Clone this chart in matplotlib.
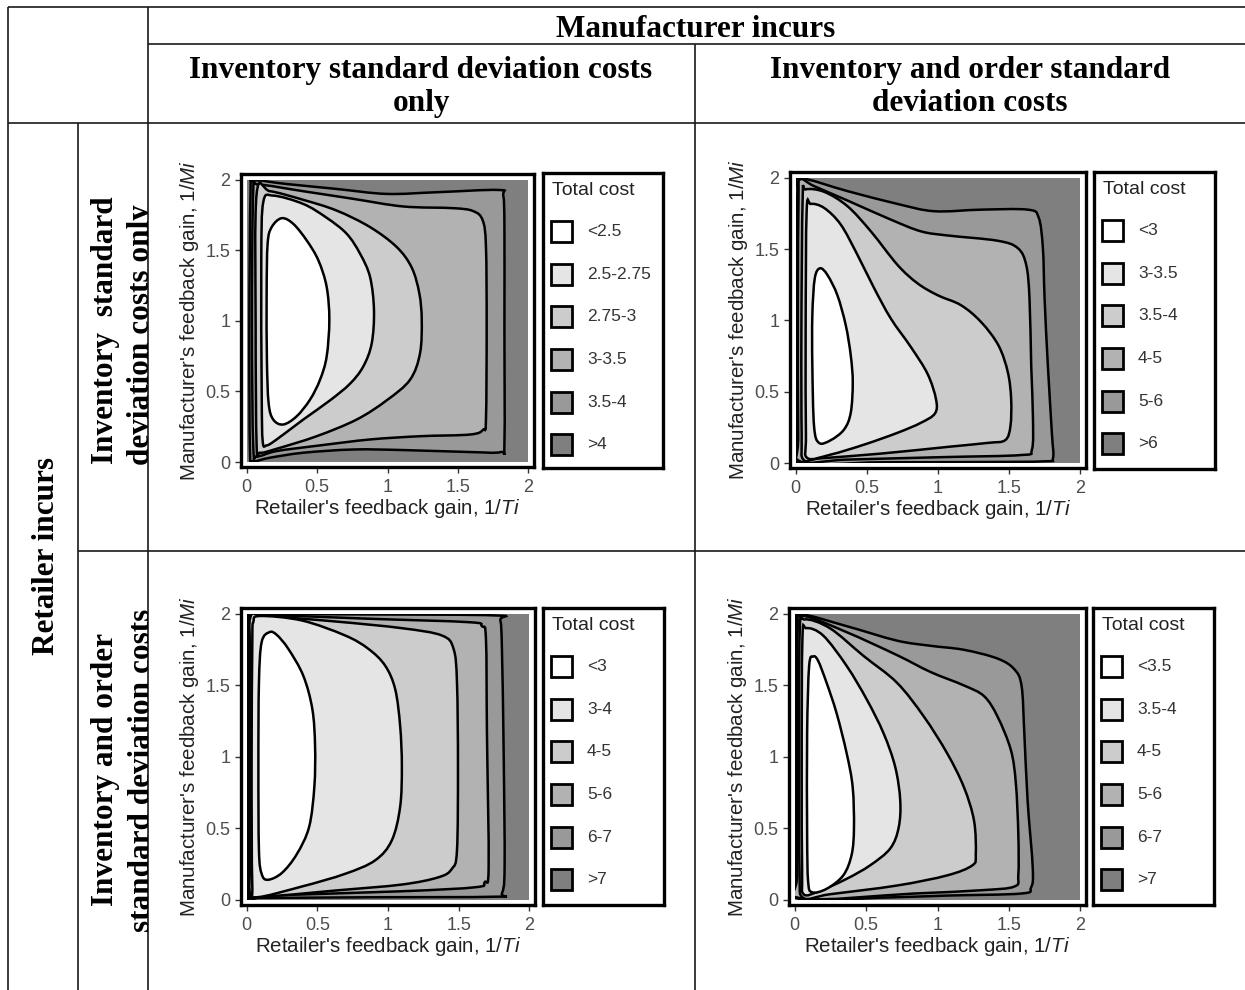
import numpy as np
import matplotlib
matplotlib.use("Agg")
import matplotlib.pyplot as plt
from matplotlib.path import Path
from matplotlib.patches import PathPatch, Rectangle
from matplotlib.transforms import Bbox

W, H = 1245, 990

# Contour boundaries, innermost first (x = 1/Ti, y = 1/Mi)
P1_X = [
    [0.249, 0.331, 0.426, 0.509, 0.568, 0.587, 0.568, 0.521, 0.450, 0.355, 0.260, 0.189, 0.156, 0.144, 0.142, 0.149, 0.178],
    [0.189, 0.402, 0.568, 0.710, 0.805, 0.876, 0.904, 0.888, 0.828, 0.734, 0.592, 0.402, 0.213, 0.142, 0.114, 0.107, 0.104, 0.118],
    [0.166, 0.402, 0.639, 0.876, 1.065, 1.172, 1.226, 1.243, 1.231, 1.160, 0.994, 0.781, 0.497, 0.213, 0.095, 0.071, 0.064, 0.071],
    [0.083, 0.402, 0.757, 1.112, 1.467, 1.609, 1.676, 1.699, 1.704, 1.699, 1.680, 1.586, 1.231, 0.876, 0.521, 0.213, 0.076, 0.047, 0.038, 0.047],
    [0.047, 0.284, 0.639, 0.994, 1.349, 1.787, 1.822, 1.830, 1.830, 1.830, 1.804, 1.586, 1.112, 0.757, 0.402, 0.166, 0.047, 0.024, 0.019, 0.028],
]
P1_Y = [
    [1.727, 1.687, 1.570, 1.429, 1.241, 1.006, 0.747, 0.583, 0.442, 0.324, 0.266, 0.301, 0.418, 0.724, 1.194, 1.546, 1.664],
    [1.887, 1.828, 1.730, 1.617, 1.476, 1.311, 1.076, 0.841, 0.677, 0.555, 0.437, 0.301, 0.160, 0.118, 0.148, 0.489, 1.429, 1.840],
    [1.918, 1.857, 1.781, 1.664, 1.523, 1.377, 1.194, 1.006, 0.771, 0.583, 0.437, 0.301, 0.183, 0.094, 0.066, 0.113, 0.959, 1.899],
    [1.965, 1.918, 1.864, 1.810, 1.798, 1.777, 1.711, 1.523, 0.959, 0.301, 0.230, 0.195, 0.183, 0.160, 0.118, 0.078, 0.042, 0.113, 0.959, 1.922],
    [1.993, 1.969, 1.934, 1.899, 1.911, 1.927, 1.887, 1.664, 0.959, 0.136, 0.071, 0.071, 0.085, 0.089, 0.066, 0.031, 0.007, 0.066, 0.959, 1.922],
]

P2_X = [
    [0.171, 0.223, 0.293, 0.352, 0.387, 0.401, 0.387, 0.340, 0.246, 0.164, 0.129, 0.117, 0.117, 0.134],
    [0.106, 0.200, 0.317, 0.434, 0.552, 0.669, 0.810, 0.927, 0.986, 0.979, 0.880, 0.716, 0.481, 0.246, 0.082, 0.072, 0.070, 0.077],
    [0.070, 0.200, 0.364, 0.528, 0.716, 0.857, 0.998, 1.162, 1.303, 1.425, 1.491, 1.514, 1.509, 1.472, 1.350, 1.068, 0.599, 0.176, 0.054, 0.042, 0.040, 0.049],
    [0.031, 0.129, 0.364, 0.669, 0.880, 1.068, 1.420, 1.561, 1.620, 1.643, 1.655, 1.667, 1.660, 1.585, 1.068, 0.364, 0.031, 0.018, 0.016, 0.020],
    [0.035, 0.364, 0.716, 0.974, 1.303, 1.631, 1.707, 1.737, 1.749, 1.772, 1.800, 1.808, 1.749, 1.303, 0.599, 0.016, 0.008, 0.007, 0.012],
]
P2_Y = [
    [1.365, 1.318, 1.176, 0.965, 0.753, 0.565, 0.353, 0.235, 0.160, 0.141, 0.259, 0.682, 1.035, 1.294],
    [1.816, 1.788, 1.671, 1.459, 1.224, 1.012, 0.812, 0.624, 0.447, 0.348, 0.282, 0.212, 0.129, 0.059, 0.035, 0.200, 0.918, 1.765],
    [1.918, 1.901, 1.800, 1.624, 1.388, 1.259, 1.176, 1.106, 0.988, 0.824, 0.635, 0.447, 0.259, 0.160, 0.141, 0.113, 0.066, 0.033, 0.024, 0.200, 0.918, 1.859],
    [1.988, 1.941, 1.840, 1.706, 1.624, 1.595, 1.558, 1.506, 1.388, 1.153, 0.682, 0.329, 0.094, 0.056, 0.042, 0.024, 0.012, 0.200, 1.153, 1.850],
    [1.995, 1.906, 1.816, 1.765, 1.776, 1.776, 1.722, 1.506, 1.153, 0.682, 0.212, 0.035, 0.012, 0.007, 0.005, 0.003, 0.200, 1.388, 1.900],
]

P3_X = [
    [0.161, 0.213, 0.295, 0.401, 0.465, 0.484, 0.479, 0.442, 0.354, 0.248, 0.149, 0.106, 0.087, 0.083, 0.087, 0.106],
    [0.094, 0.390, 0.697, 0.862, 0.980, 1.051, 1.086, 1.098, 1.086, 1.027, 0.909, 0.697, 0.390, 0.064, 0.040, 0.035, 0.040, 0.047],
    [0.130, 0.626, 1.098, 1.381, 1.464, 1.488, 1.495, 1.488, 1.452, 1.358, 1.098, 0.626, 0.130, 0.028, 0.024, 0.022, 0.024, 0.028],
    [0.106, 0.862, 1.570, 1.665, 1.693, 1.700, 1.712, 1.684, 1.617, 1.098, 0.106, 0.020, 0.016, 0.015, 0.016, 0.020],
    [0.059, 0.862, 1.759, 1.795, 1.806, 1.818, 1.825, 1.806, 1.759, 0.862, 0.059, 0.010, 0.008, 0.008, 0.008, 0.010],
]
P3_Y = [
    [1.871, 1.852, 1.754, 1.566, 1.332, 1.074, 0.793, 0.511, 0.319, 0.188, 0.141, 0.183, 0.347, 0.933, 1.519, 1.801],
    [1.984, 1.953, 1.848, 1.754, 1.637, 1.472, 1.215, 0.933, 0.652, 0.417, 0.277, 0.183, 0.094, 0.019, 0.100, 0.933, 1.800, 1.941],
    [1.984, 1.946, 1.899, 1.848, 1.754, 1.519, 0.933, 0.347, 0.218, 0.159, 0.108, 0.066, 0.023, 0.030, 0.300, 0.933, 1.700, 1.980],
    [1.993, 1.965, 1.941, 1.913, 1.824, 1.168, 0.230, 0.124, 0.089, 0.061, 0.030, 0.022, 0.300, 0.933, 1.700, 1.990],
    [1.998, 1.995, 1.988, 1.953, 1.754, 1.050, 0.230, 0.047, 0.023, 0.019, 0.014, 0.016, 0.300, 0.933, 1.700, 1.996],
]

P4_X = [
    [0.129, 0.164, 0.223, 0.293, 0.364, 0.406, 0.415, 0.399, 0.340, 0.223, 0.122, 0.094, 0.087, 0.087, 0.101],
    [0.082, 0.200, 0.364, 0.505, 0.622, 0.704, 0.739, 0.728, 0.669, 0.528, 0.364, 0.176, 0.063, 0.052, 0.049, 0.054],
    [0.070, 0.246, 0.481, 0.716, 0.904, 1.068, 1.185, 1.256, 1.268, 1.244, 1.068, 0.716, 0.246, 0.059, 0.034, 0.031, 0.035],
    [0.059, 0.364, 0.716, 0.951, 1.185, 1.326, 1.420, 1.514, 1.549, 1.566, 1.566, 1.538, 1.303, 0.833, 0.047, 0.018, 0.016, 0.020],
    [0.047, 0.364, 0.716, 0.951, 1.185, 1.420, 1.538, 1.589, 1.608, 1.631, 1.667, 1.655, 1.585, 1.068, 0.599, 0.035, 0.009, 0.007, 0.010],
]
P4_Y = [
    [1.701, 1.671, 1.518, 1.306, 1.024, 0.788, 0.506, 0.318, 0.172, 0.078, 0.054, 0.129, 0.459, 1.165, 1.635],
    [1.899, 1.847, 1.635, 1.400, 1.165, 0.929, 0.694, 0.506, 0.360, 0.242, 0.148, 0.064, 0.040, 0.200, 0.929, 1.824],
    [1.960, 1.899, 1.706, 1.518, 1.282, 1.024, 0.788, 0.553, 0.318, 0.242, 0.172, 0.101, 0.040, 0.016, 0.200, 0.929, 1.871],
    [1.984, 1.871, 1.711, 1.593, 1.499, 1.424, 1.282, 1.047, 0.812, 0.459, 0.176, 0.094, 0.068, 0.045, 0.012, 0.200, 1.165, 1.880],
    [1.993, 1.913, 1.812, 1.776, 1.748, 1.687, 1.612, 1.494, 1.165, 0.694, 0.224, 0.087, 0.045, 0.031, 0.016, 0.007, 0.200, 1.165, 1.900],
]

P1_LABELS = ["<2.5", "2.5-2.75", "2.75-3", "3-3.5", "3.5-4", ">4"]
P2_LABELS = ["<3", "3-3.5", "3.5-4", "4-5", "5-6", ">6"]
P3_LABELS = ["<3", "3-4", "4-5", "5-6", "6-7", ">7"]
P4_LABELS = ["<3.5", "3.5-4", "4-5", "5-6", "6-7", ">7"]

TICKS = [0, 0.5, 1, 1.5, 2]
TICK_LABELS = ["0", "0.5", "1", "1.5", "2"]

FILLS = ["#ffffff", "#e5e5e5", "#cccccc", "#b2b2b2", "#999999", "#7f7f7f"]

plt.rcParams["font.family"] = ["Liberation Sans", "DejaVu Sans"]
plt.rcParams["mathtext.fontset"] = "custom"
plt.rcParams["mathtext.it"] = "Liberation Sans:italic"
plt.rcParams["mathtext.rm"] = "Liberation Sans"

SERIF = dict(family="Liberation Serif", weight="bold", fontsize=22.5, color="black")


def px_axes(fig, l, t, r, b):
    # axes placed in pixel coordinates of the 1245x990 canvas
    return fig.add_axes([l / W, 1 - b / H, (r - l) / W, (b - t) / H])


def smooth_path(xs, ys):
    # closed curve through the read points (cubic Bezier segments)
    pts = np.column_stack([xs, ys])
    n = len(pts)
    verts = [pts[0]]
    codes = [Path.MOVETO]
    for i in range(n):
        p0, p1, p2, p3 = pts[i - 1], pts[i], pts[(i + 1) % n], pts[(i + 2) % n]
        verts += [p1 + (p2 - p0) / 6, p2 - (p3 - p1) / 6, p2]
        codes += [Path.CURVE4] * 3
    verts.append(pts[0])
    codes.append(Path.CLOSEPOLY)
    return Path(verts, codes)


def draw_panel(ax, cx, cy):
    bg = Rectangle((0, 0), 2, 2, facecolor=FILLS[-1], edgecolor="none", zorder=1)
    ax.add_patch(bg)
    for k in range(len(cx) - 1, -1, -1):
        p = PathPatch(smooth_path(cx[k], cy[k]), facecolor=FILLS[k],
                      edgecolor="black", lw=1.8, zorder=2 + (len(cx) - k))
        ax.add_patch(p)
        p.set_clip_path(bg)
    ax.set_xlim(-0.04, 2.04)
    ax.set_ylim(-0.035, 2.04)
    ax.set_xticks(TICKS)
    ax.set_xticklabels(TICK_LABELS)
    ax.set_yticks(TICKS)
    ax.set_yticklabels(TICK_LABELS)
    ax.tick_params(direction="out", length=4.5, width=1, color="#333333",
                   labelsize=13, labelcolor="#4d4d4d")
    ax.tick_params(axis="x", pad=4)
    ax.tick_params(axis="y", pad=3)
    for s in ax.spines.values():
        s.set_linewidth(2.4)
        s.set_color("black")
    ax.set_xlabel("Retailer's feedback gain, 1/$\\mathit{Ti}$", fontsize=14.8,
                  color="#222222", labelpad=1)
    ax.set_ylabel("Manufacturer's feedback gain, 1/$\\mathit{Mi}$", fontsize=14.8,
                  color="#222222", labelpad=3)


def draw_legend(fig, l, t, r, b, labels):
    lax = px_axes(fig, l, t, r, b)
    lax.set_xlim(0, r - l)
    lax.set_ylim(b - t, 0)
    lax.set_xticks([])
    lax.set_yticks([])
    for s in lax.spines.values():
        s.set_linewidth(2.4)
        s.set_color("black")
    lax.text(9, 18, "Total cost", fontsize=14, color="#222222", ha="left", va="center")
    for i, lab in enumerate(labels):
        yc = 58.7 + i * 42.6
        lax.add_patch(Rectangle((8, yc - 10.5), 21, 21, facecolor=FILLS[i],
                                edgecolor="black", lw=2))
        lax.text(44, yc, lab, fontsize=12.5, color="#333333", ha="left", va="center")


fig = plt.figure(figsize=(W / 100, H / 100), dpi=100)

# table grid and header texts
tab = fig.add_axes([0, 0, 1, 1])
tab.set_xlim(0, W)
tab.set_ylim(H, 0)
tab.axis("off")
lines = [
    ([8, W], [7, 7]), ([8, 8], [7, H]), ([148, 148], [7, H]), ([78, 78], [123, H]),
    ([148, W], [44, 44]), ([8, W], [123, 123]), ([695, 695], [44, H]), ([78, W], [551, 551]),
]
for xs, ys in lines:
    tab.plot(xs, ys, color="#1a1a1a", lw=1.2, solid_capstyle="butt", zorder=3)

tab.text(696, 37, "Manufacturer incurs", ha="center", va="baseline", **SERIF)
tab.text(421, 78, "Inventory standard deviation costs", ha="center", va="baseline", **SERIF)
tab.text(421, 111, "only", ha="center", va="baseline", **SERIF)
tab.text(970, 78, "Inventory and order standard", ha="center", va="baseline", **SERIF)
tab.text(970, 111, "deviation costs", ha="center", va="baseline", **SERIF)
tab.text(47, 556, "Retailer incurs", ha="center", va="center", rotation=90, **SERIF)

# row labels overflow their cell in the original and get cut at its right edge
cell_box = Bbox.from_extents(78, 0, 148, H - 123)   # display pixels, origin bottom-left
for x, y, s in [(106, 330, "Inventory  standard"), (142, 335, "deviation costs only"),
                (106, 769, "Inventory and order"), (142, 770, "standard deviation costs")]:
    t = tab.text(x, y, s, ha="center", va="center", rotation=90, **SERIF)
    t.set_clip_on(True)
    t.set_clip_box(cell_box)

# the four contour panels with their legends
ax1 = px_axes(fig, 241, 174, 534, 467)
draw_panel(ax1, P1_X, P1_Y)
draw_legend(fig, 543, 173, 663, 468, P1_LABELS)

ax2 = px_axes(fig, 790, 172, 1086, 468)
draw_panel(ax2, P2_X, P2_Y)
draw_legend(fig, 1094, 172, 1215, 469, P2_LABELS)

ax3 = px_axes(fig, 241, 608, 535, 905)
draw_panel(ax3, P3_X, P3_Y)
draw_legend(fig, 543, 608, 664, 905, P3_LABELS)

ax4 = px_axes(fig, 789, 608, 1086, 905)
draw_panel(ax4, P4_X, P4_Y)
draw_legend(fig, 1093, 608, 1214, 905, P4_LABELS)

fig.savefig("out.png", dpi=100)
